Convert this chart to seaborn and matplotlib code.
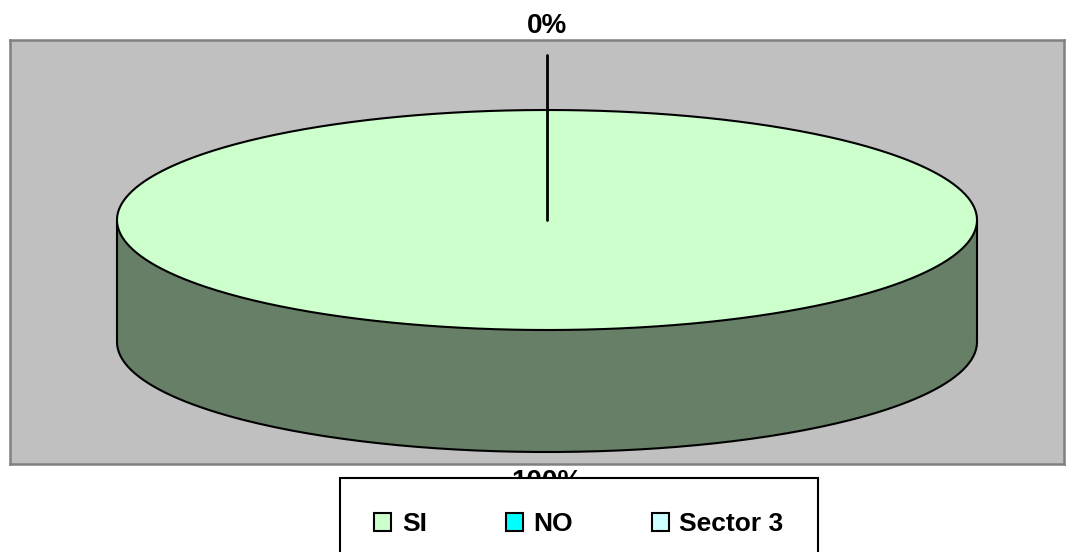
import numpy as np
import matplotlib
matplotlib.use('Agg')
import matplotlib.pyplot as plt
import seaborn as sns
from matplotlib.patches import Patch

# datos
categorias = ['SI', 'NO', 'Sector 3']
valores = [1.0, 0.0, np.nan]
colores_top = ['#CCFFCC', '#00FFFF', '#CCFFFF']
colores_lado = ['#667F66', '#008080', '#668080']

sns.set_theme(style='white')
plt.rcParams['font.family'] = ['Liberation Sans', 'DejaVu Sans']
plt.rcParams['text.color'] = 'black'

fig = plt.figure(figsize=(10.75, 5.52), dpi=100)
ax = fig.add_axes([10/1075, 88/552, 1054/1075, 424/552])
ax.set_facecolor('#C0C0C0')
for s in ax.spines.values():
    s.set_color('#808080')
    s.set_linewidth(1.8)
ax.set_xticks([])
ax.set_yticks([])
ax.set_xlim(-537/430, 517/430)
ax.set_ylim(-244/430, 180/430)

# geometría del pastel 3D
rx, ry, prof = 1.0, 110/430, 122/430

vals = np.nan_to_num(np.array(valores))
total = vals.sum()
fracs = vals / total
# empieza a las 12 y gira en sentido horario
ini = 90 - 360 * np.concatenate([[0], np.cumsum(fracs)[:-1]])
fin = ini - 360 * fracs

# lateral visible (mitad delantera)
for i in range(len(categorias)):
    if fracs[i] <= 0:
        continue
    a0, a1 = fin[i], ini[i]
    t = np.radians(np.linspace(a0, a1, 400))
    t = t[np.sin(t) <= 0]
    if len(t) == 0:
        continue
    t = np.sort(np.mod(t, 2*np.pi))
    xs = rx * np.cos(t)
    ys = ry * np.sin(t)
    poly_x = np.concatenate([xs, xs[::-1]])
    poly_y = np.concatenate([ys, ys[::-1] - prof])
    ax.fill(poly_x, poly_y, color=colores_lado[i], zorder=2, lw=0)
    ax.plot(xs, ys - prof, color='black', lw=1.5, zorder=3)
    ax.plot([xs[0], xs[0]], [ys[0], ys[0] - prof], color='black', lw=1.5, zorder=3)
    ax.plot([xs[-1], xs[-1]], [ys[-1], ys[-1] - prof], color='black', lw=1.5, zorder=3)

# cara superior
for i in range(len(categorias)):
    if fracs[i] <= 0:
        continue
    t = np.radians(np.linspace(ini[i], fin[i], 600))
    px = np.concatenate([[0], rx * np.cos(t), [0]])
    py = np.concatenate([[0], ry * np.sin(t), [0]])
    ax.fill(px, py, color=colores_top[i], zorder=4, lw=0)
    ax.plot(rx * np.cos(t), ry * np.sin(t), color='black', lw=1.5, zorder=5)

# etiquetas de porcentaje
for i in range(len(categorias)):
    if np.isnan(valores[i]):
        continue
    mid = np.radians((ini[i] + fin[i]) / 2)
    arriba = np.sin(mid) > 0
    if arriba:
        ly = ry * np.sin(mid) + 0.195
    else:
        ly = ry * np.sin(mid) - prof - 0.07
    lx = rx * np.cos(mid)
    ax.text(lx, ly, f'{fracs[i]*100:.0f}%', ha='center', va='center',
            fontsize=20, fontweight='bold', color='black', zorder=6, clip_on=False)
    if fracs[i] == 0:
        ax.plot([0, rx * np.cos(mid) * 1.5], [0, ry * np.sin(mid) * 1.5],
                color='black', lw=2, zorder=6)

handles = [Patch(facecolor=c, edgecolor='black', lw=1.5) for c in colores_top]
leg = fig.legend(handles, categorias, ncol=3, loc='upper left',
                 bbox_to_anchor=(340/1075, 1 - 478/552, 478/1075, 0),
                 mode='expand', frameon=True, fancybox=False, framealpha=1,
                 edgecolor='black', borderpad=1.3, borderaxespad=0,
                 handlelength=0.65, handleheight=0.65,
                 handletextpad=0.4, prop={'weight': 'bold', 'size': 19})
leg.get_frame().set_linewidth(1.5)
for txt in leg.get_texts():
    txt.set_color('black')

fig.savefig('out.png', dpi=100)
